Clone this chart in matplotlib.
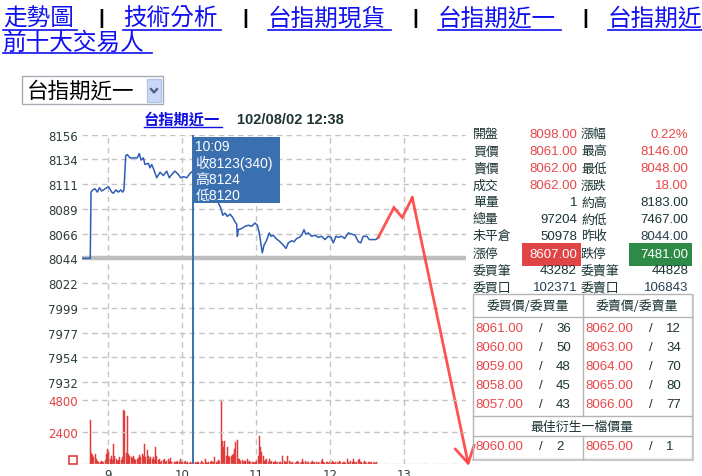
import matplotlib
matplotlib.use("Agg")
import matplotlib.pyplot as plt
from matplotlib.patches import Rectangle
from matplotlib.lines import Line2D

plt.rcParams['font.family'] = ['Liberation Sans', 'Noto Sans CJK TC']

# ---- data -------------------------------------------------------------
# minutes after 08:45 and price of 台指期近一
price_min = [-5.7, 1, 1.6, 3, 4.9, 6.7, 8.4, 10.3, 13, 15.7, 18.4, 19.7, 21.9, 23.7, 25.7,
             27.3, 28.3, 29.7, 31, 33.2, 37.2, 39.1, 40.7, 42.1, 44, 45.3, 48, 49.4, 50.8,
             52.6, 54.8, 57.5, 60.2, 62.9, 65, 67.8, 69.6, 72.3, 74.2, 76.4, 79.1, 81.8, 84,
             95, 103, 106.6, 108.3, 110.1, 112, 114.2, 116.4, 118.2, 119.6, 120.1, 120.9,
             123.6, 126.3, 129, 131.7, 134.4, 136.3, 137.9, 140.3, 141.7, 143.3, 146, 147.4,
             149.2, 151.4, 154.7, 157.3, 159.5, 161.4, 164.1, 166, 168.2, 170.3, 172.2, 174.1,
             175.5, 177.6, 180.3, 183, 185.7, 188.4, 191.1, 193.8, 196, 197.8, 200, 202,
             204.6, 207, 210, 212.7, 215.4, 218.1, 220, 222.1, 224.9, 227, 229.7, 232.4, 234.3]
price = [8044, 8044, 8104, 8106, 8107, 8104, 8108, 8105, 8107, 8109, 8104, 8103, 8106, 8104, 8106,
         8104, 8106, 8137, 8138, 8135, 8135, 8135, 8139, 8133, 8135, 8129, 8130, 8126, 8129,
         8124, 8117, 8122, 8119, 8123, 8117, 8121, 8123, 8120, 8117, 8118, 8117, 8121, 8123,
         8110, 8098, 8090, 8083, 8085, 8082, 8084, 8081, 8077, 8075, 8064, 8070,
         8071, 8073, 8074, 8073, 8076, 8074, 8067, 8049, 8056, 8059, 8067, 8064,
         8065, 8062, 8059, 8056, 8053, 8058, 8060, 8059, 8062, 8063, 8065, 8070,
         8066, 8067, 8064, 8065, 8063, 8064, 8061, 8064, 8063, 8058, 8064, 8063,
         8064, 8062, 8067, 8066, 8065, 8059, 8058, 8064, 8064, 8061, 8061, 8061, 8063]

# hand-drawn red projection (last point = arrow tip)
proj_min = [234.3, 246.9, 253.7, 261.8, 307.5]
proj_price = [8063, 8090, 8081, 8099, 7856]

# volume per minute from 08:45
volume = [0, 3260, 810, 710, 560, 760, 390, 270, 150, 200, 270, 150, 200, 300, 760,
          1130, 880, 390, 640, 350, 1540, 640, 390, 270, 300, 510, 320, 510, 4000, 3950,
          810, 3580, 760, 640, 510, 450, 640, 390, 300, 390, 450, 710, 510, 760, 640,
          1540, 510, 1060, 640, 400, 510, 390, 510, 300, 1250, 640, 300, 390, 200, 270,
          300, 390, 200, 270, 390, 250, 470, 200, 270, 150, 150, 200, 270, 150, 390,
          150, 150, 200, 270, 100, 150, 100, 150, 100, 200, 100, 150, 100, 200, 150,
          100, 250, 150, 100, 390, 150, 100, 200, 150, 270, 150, 200, 510, 150, 200,
          300, 270, 4810, 1740, 1250, 1740, 640, 1250, 640, 510, 640, 710, 760, 1100, 1620,
          1790, 390, 390, 270, 320, 200, 270, 270, 390, 200, 270, 150, 200, 150, 100,
          150, 270, 640, 2110, 1250, 880, 640, 270, 300, 390, 200, 390, 150, 270, 150,
          200, 270, 100, 150, 150, 200, 100, 640, 270, 150, 200, 640, 270, 150, 100,
          150, 200, 100, 150, 270, 150, 100, 200, 420, 150, 270, 100, 150, 200, 100,
          150, 270, 100, 150, 200, 100, 150, 100, 270, 370, 150, 100, 150, 200, 100,
          150, 100, 270, 150, 100, 200, 150, 100, 270, 150, 100, 150, 200, 100, 390,
          150, 100, 270, 150, 400, 200, 100, 150, 300, 420, 200, 150, 100, 270, 150,
          100, 200, 150, 100, 150, 100, 200, 100, 150]
vol_min = list(range(len(volume)))

price_ticks = [7932, 7954.4, 7976.8, 7999.2, 8021.6, 8044, 8066.4, 8088.8, 8111.2, 8133.6, 8156]
price_labels = ['7932', '7954', '7977', '7999', '8022', '8044', '8066', '8089', '8111', '8134', '8156']
vol_ticks = [2400, 4800]
hour_ticks = [15, 75, 135, 195, 255]
hour_labels = ['9', '10', '11', '12', '13']
ref_price = 8044
cursor_min = 84

quote_rows = [('開盤', '8098.00', '漲幅', '0.22%'),
              ('買價', '8061.00', '最高', '8146.00'),
              ('賣價', '8062.00', '最低', '8048.00'),
              ('成交', '8062.00', '漲跌', '18.00'),
              ('單量', '1', '約高', '8183.00'),
              ('總量', '97204', '約低', '7467.00'),
              ('未平倉', '50978', '昨收', '8044.00'),
              ('漲停', '8607.00', '跌停', '7481.00'),
              ('委買筆', '43282', '委賣筆', '44828'),
              ('委買口', '102371', '委賣口', '106843')]
bid_price = ['8061.00', '8060.00', '8059.00', '8058.00', '8057.00']
bid_qty = ['36', '50', '48', '45', '43']
ask_price = ['8062.00', '8063.00', '8064.00', '8065.00', '8066.00']
ask_qty = ['12', '34', '70', '80', '77']
best_bid = ('8060.00', '2')
best_ask = ('8065.00', '1')

# ---- figure ----------------------------------------------------------
W, H = 702, 477
fig = plt.figure(figsize=(W / 100, H / 100), dpi=100)


def px(x, y):
    return x / W, 1 - y / H


def text(x, y, s, **kw):
    kw.setdefault('va', 'center')
    fig.text(x / W, 1 - y / H, s, **kw)


def hline(x0, x1, y, **kw):
    fig.add_artist(Line2D([x0 / W, x1 / W], [1 - y / H, 1 - y / H], transform=fig.transFigure, **kw))


def vline(x, y0, y1, **kw):
    fig.add_artist(Line2D([x / W, x / W], [1 - y0 / H, 1 - y1 / H], transform=fig.transFigure, **kw))


def box(x0, y0, x1, y1, **kw):
    fig.add_artist(Rectangle(px(x0, y1), (x1 - x0) / W, (y1 - y0) / H, transform=fig.transFigure, **kw))


# top navigation links
link = '#1010f0'
nav = [('走勢圖', 3), ('技術分析', 123), ('台指期現貨', 268), ('台指期近一', 438), ('台指期近一', 608)]
for s, x in nav:
    text(x, 19, s, fontsize=17, color=link, family='Noto Sans CJK TC')
    hline(x, min(x + 24.5 * len(s), W), 31, color=link, lw=1.2)
for x in [101, 245, 415, 585]:
    text(x, 19, '|', fontsize=15, color='black', ha='center', weight='bold')
text(3, 43, '前十大交易人', fontsize=17, color=link, family='Noto Sans CJK TC')
hline(3, 152, 54, color=link, lw=1.2)

# dropdown
box(22, 77, 163, 105, facecolor='white', edgecolor='#a5acb5', lw=1)
text(27, 92, '台指期近一', fontsize=15.5, color='black', family='Noto Sans CJK TC')
box(147, 80, 161, 103, facecolor='#c9d8f7', edgecolor='#b0c4ee', lw=1)
fig.add_artist(Line2D([151 / W, 154 / W, 157 / W], [1 - 90 / H, 1 - 93.5 / H, 1 - 90 / H],
                      transform=fig.transFigure, color='#4d5d80', lw=1.6))

# chart title
text(144, 120, '台指期近一', fontsize=11, color='#1010e0', weight='bold', family='Noto Sans CJK TC')
hline(144, 222, 128, color='#1010e0', lw=1)
text(237, 120, '102/08/02 12:38', fontsize=10.5, color='#1e3434', weight='bold')

# ---- main chart ------------------------------------------------------
ax = fig.add_axes([82 / W, 1 - 465.3 / H, 384 / W, 329.6 / H])
ax.set_xlim(-5.7, 305.3)
ax.set_ylim(7857.45, 8156)
for sp in ax.spines.values():
    sp.set_visible(False)
ax.set_yticks(price_ticks)
ax.set_yticklabels(price_labels)
ax.set_xticks(hour_ticks)
ax.set_xticklabels(hour_labels)
ax.tick_params(length=0, labelsize=8.5, colors='#2b3b3b', pad=3)
ax.tick_params(axis='x', pad=2.5)
for lab in ax.get_yticklabels() + ax.get_xticklabels():
    lab.set_family('DejaVu Sans')
ax.grid(True, color='#c4c4c4', linestyle=(0, (4, 3)), lw=1)
ax.axhline(ref_price, color='#bdbdbd', lw=3.2, zorder=2)
ax.plot(price_min, price, color='#2d5db5', lw=1.1, zorder=3)
ax.plot(proj_min[:-1], proj_price[:-1], color='#ff4040', lw=2, alpha=0.9, zorder=4,
        solid_joinstyle='miter')
ann = ax.annotate('', xy=(proj_min[-1], proj_price[-1]), xytext=(proj_min[-2], proj_price[-2]),
                  arrowprops=dict(arrowstyle='->,head_length=0.6,head_width=0.35', color='#ff4040',
                                  lw=2, alpha=0.9, mutation_scale=20, shrinkA=0, shrinkB=0),
                  annotation_clip=False, zorder=4)
ann.arrow_patch.set_clip_on(False)
ax.axvline(cursor_min, color='#3b6fb0', lw=1.2, zorder=5)

# volume on a second scale sharing the time axis
ax2 = ax.twinx()
ax2.set_ylim(0, 24490)
for sp in ax2.spines.values():
    sp.set_visible(False)
ax2.yaxis.tick_left()
ax2.set_yticks(vol_ticks)
ax2.set_yticklabels([str(v) for v in vol_ticks])
ax2.tick_params(length=0, labelsize=8.5, colors='#e04040', pad=3)
for lab in ax2.get_yticklabels():
    lab.set_family('DejaVu Sans')
ax2.grid(True, axis='y', color='#c4c4c4', linestyle=(0, (4, 3)), lw=1)
ax2.bar(vol_min, volume, width=0.8, color='#e03c3c', edgecolor='#e03c3c', linewidth=0.35)
ax2.axvline(cursor_min, color='#3b6fb0', lw=1.2, zorder=5)
ax2.axhline(0, color='#c4c4c4', lw=1, linestyle=(0, (4, 3)))
box(68.5, 457, 76.5, 464.5, facecolor='none', edgecolor='#e04040', lw=1.2)

# tooltip
box(193.2, 138.3, 280, 204.3, facecolor='#3a70b0', edgecolor='none')
for y, s in [(147, '10:09'), (163.5, '收8123(340)'), (180, '高8124'), (196, '低8120')]:
    text(195.5, y, s, fontsize=10, color='white')

# ---- quote panel -----------------------------------------------------
dark = '#1b3434'
red = '#e8474a'
slate = '#27414f'
row_y = [134.5, 152, 169, 186, 203, 220, 237, 254.5, 271, 288]
for i, (l1, v1, l2, v2) in enumerate(quote_rows):
    y = row_y[i]
    c1 = red if i < 4 else dark
    c2 = red if i < 4 else dark
    if l2 in ('昨收', '委賣口'):
        c2 = slate
    if l1 == '委買口':
        c1 = slate
    if l1 == '漲停':
        box(521.7, 243.5, 580.7, 266.5, facecolor='#e04444', edgecolor='none')
        box(629.3, 243.5, 691.7, 266.5, facecolor='#2e8b47', edgecolor='none')
        c1 = c2 = 'white'
    text(473, y, l1, fontsize=9.3, color=dark, family='Noto Sans CJK TC')
    text(577, y, v1, fontsize=9.5, color=c1, ha='right')
    text(581, y, l2, fontsize=9.3, color=dark, family='Noto Sans CJK TC')
    text(688.5, y, v2, fontsize=9.5, color=c2, ha='right')

# order book table
grid_c = '#b4b4b4'
box(472.7, 295, 691.7, 460, facecolor='none', edgecolor=grid_c, lw=1)
hline(472.7, 692.7, 460.8, color='#c8c8c8', lw=1.5)
vline(691.9 + 0.8, 296, 461, color='#c8c8c8', lw=1.2)
hline(472.7, 691.7, 318.3, color=grid_c, lw=1)
hline(472.7, 691.7, 417.3, color=grid_c, lw=1)
hline(472.7, 691.7, 436.7, color=grid_c, lw=1)
vline(582.7, 295, 417.3, color=grid_c, lw=1)
vline(582.7, 436.7, 460, color=grid_c, lw=1)
text(527.3, 307, '委買價/委買量', fontsize=9.3, color=dark, ha='center', family='Noto Sans CJK TC')
text(636.7, 307, '委賣價/委賣量', fontsize=9.3, color=dark, ha='center', family='Noto Sans CJK TC')
book_y = [329.3, 348.3, 367.3, 386, 405]
for i, y in enumerate(book_y):
    text(475, y, bid_price[i], fontsize=9.5, color=red)
    text(541, y, '/', fontsize=9.5, color=dark, ha='center')
    text(556, y, bid_qty[i], fontsize=9.5, color=dark)
    text(585.5, y, ask_price[i], fontsize=9.5, color=red)
    text(650.5, y, '/', fontsize=9.5, color=dark, ha='center')
    text(666, y, ask_qty[i], fontsize=9.5, color=dark)
text(581.7, 427, '最佳衍生一檔價量', fontsize=9.3, color=dark, ha='center', family='Noto Sans CJK TC')
text(475, 447, best_bid[0], fontsize=9.5, color=red)
text(541, 447, '/', fontsize=9.5, color=dark, ha='center')
text(556, 447, best_bid[1], fontsize=9.5, color=dark)
text(585.5, 447, best_ask[0], fontsize=9.5, color=red)
text(650.5, 447, '/', fontsize=9.5, color=dark, ha='center')
text(666, 447, best_ask[1], fontsize=9.5, color=dark)

fig.savefig('out.png', dpi=100)
